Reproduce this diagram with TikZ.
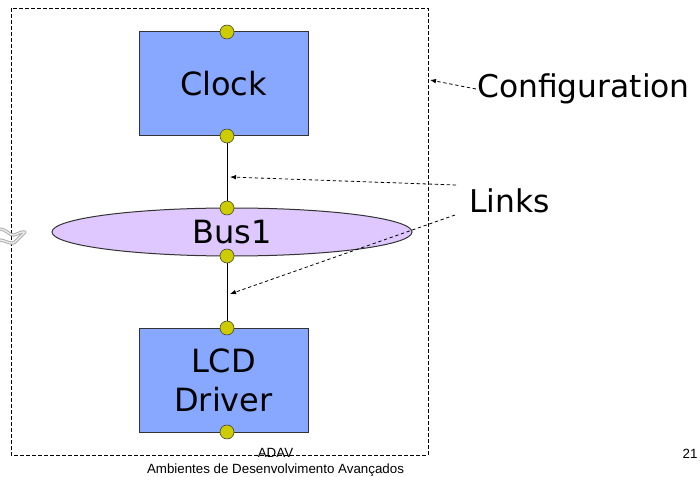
\documentclass[tikz,border=0pt]{standalone}
\usepackage{fontspec}
\setmainfont{DejaVu Sans}
\newfontfamily\footfont{Liberation Sans}
\usepackage{tikz}
\usetikzlibrary{arrows.meta, shapes.geometric}

\definecolor{boxblue}{RGB}{136,168,255}
\definecolor{buslilac}{RGB}{222,200,255}
\definecolor{portyellow}{RGB}{204,204,0}

\tikzset{
  compbox/.style={draw=black!80, fill=boxblue, line width=0.75pt, minimum width=126.75pt, minimum height=78pt, inner sep=0pt, font=\fontsize{24}{29}\selectfont, align=center},
  busshape/.style={draw=black!80, fill=buslilac, line width=0.75pt, ellipse, minimum width=270pt, minimum height=36pt, inner sep=0pt, font=\fontsize{24}{29}\selectfont},
  port/.style={circle, draw=black!80, fill=portyellow, minimum size=10.5pt, inner sep=0pt},
  note/.style={font=\fontsize{23.5}{29}\selectfont, inner sep=0.75pt},
  pointer/.style={line width=0.6pt, dash pattern={on 2.5pt off 2pt}, -{Latex[length=4.5pt,width=3.5pt]}},
  footer/.style={font=\footfont\fontsize{10}{12}\selectfont, inner sep=0.75pt}
}

\begin{document}
\begin{tikzpicture}[x=0.75pt,y=0.75pt,yscale=-1,xscale=1]
    \useasboundingbox (0,0) rectangle (700,477);

    %Shape: Rectangle [configuration frame]
    \draw [dash pattern={on 3pt off 1.5pt}, line width=0.6pt]  (11,8) rectangle (428,455) ;

    %Shape: Blocks
    \node [compbox] (clock) at (223.5,84) {Clock};
    \node [busshape] (bus) at (232,232) {Bus1};
    \node [compbox] (lcd) at (223.5,380.3) {LCD\\Driver};

    %Shape: Ports
    \node [port] (clockIn) at (227,32) {};
    \node [port] (clockOut) at (227,136) {};
    \node [port] (busIn) at (227,208) {};
    \node [port] (busOut) at (227,256) {};
    \node [port] (lcdIn) at (227,328) {};
    \node [port] (lcdOut) at (227,432) {};

    %Straight Lines [links]
    \draw [line width=0.75pt]   (clockOut) -- (busIn) ;
    \draw [line width=0.75pt]   (busOut) -- (lcdIn) ;

    %Curve Lines [squiggle at left edge]
    \draw [gray!65, line width=2.4pt, line cap=round, line join=round] (0,229) .. controls (6,229) and (10,236) .. (14,235) .. controls (18,234) and (22,231) .. (25,232) -- (14,243) .. controls (9,244) and (4,240) .. (0,240) ;
    \draw [gray!12, line width=0.9pt, line cap=round, line join=round] (0,229) .. controls (6,229) and (10,236) .. (14,235) .. controls (18,234) and (22,231) .. (25,232) -- (14,243) .. controls (9,244) and (4,240) .. (0,240) ;

    % Text Node
    \node [note, anchor=west] (config) at (476,89) {Configuration};
    % Text Node
    \node [note, anchor=west] (links) at (468,201) {Links};

    \coordinate (frameEdge) at (430,80);
    \coordinate (upperLink) at (230,177);
    \coordinate (lowerLink) at (230,294);

    %Pointers
    \draw [pointer] (config.west) -- (frameEdge) ;
    \draw [pointer] ([shift={(-12,-16)}]links.west) -- (upperLink) ;
    \draw [pointer] ([shift={(-13,14)}]links.west) -- (lowerLink) ;

    % Text Node
    \node [footer] (adav) at (275.5,453) {ADAV};
    % Text Node
    \node [footer] (subtitle) at (275.5,470) {Ambientes de Desenvolvimento Avançados};
    % Text Node
    \node [footer] (page) at (690,454) {21};

\end{tikzpicture}
\end{document}
